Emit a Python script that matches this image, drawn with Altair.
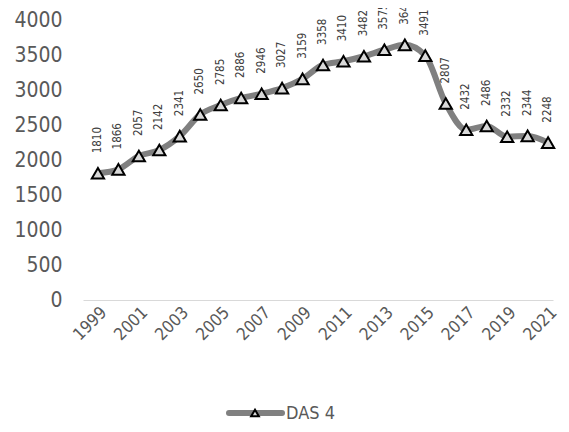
import altair as alt
import pandas as pd

years = list(range(1999, 2022))
values = [1810, 1866, 2057, 2142, 2341, 2650, 2785, 2886, 2946, 3027, 3159, 3358,
          3410, 3482, 3575, 3645, 3491, 2807, 2432, 2486, 2332, 2344, 2248]
series_name = "DAS 4"
y_ticks = [0, 500, 1000, 1500, 2000, 2500, 3000, 3500, 4000]
x_ticks = list(range(1999, 2022, 2))

df = pd.DataFrame({"year": years, "value": values})
legend_df = pd.DataFrame({"series": [series_name]})

FONT = "DejaVu Sans Condensed, Roboto Condensed, Arial Narrow, Roboto, sans-serif"
GRAY = "#595959"
LINE = "#808080"
FILL = "#d9d9d9"

x = alt.X("year:Q", scale=alt.Scale(domain=[1998.27, 2021.24], nice=False, zero=False),
          axis=alt.Axis(values=x_ticks, format="d", labelAngle=-45, labelAlign="right",
                        labelBaseline="top", labelFontSize=17, labelColor=GRAY, labelFont=FONT,
                        ticks=False, domainColor="#d9d9d9", domainWidth=1, grid=False,
                        labelPadding=4, title=None, labelOverlap=False))
y = alt.Y("value:Q", scale=alt.Scale(domain=[0, 4000], nice=False),
          axis=alt.Axis(values=y_ticks, format="d", labelFontSize=21, labelColor=GRAY, labelFont=FONT,
                        ticks=False, domain=False, grid=False, labelPadding=21, title=None))

line = alt.Chart(df).mark_line(strokeWidth=6, interpolate="monotone", color=LINE).encode(x=x, y=y)

pts = alt.Chart(df).mark_point(shape="triangle-up", filled=True, fill=FILL, stroke="black",
                               strokeWidth=2, size=150, opacity=1).encode(x=x, y=y)

labels = alt.Chart(df).mark_text(angle=270, align="left", baseline="middle", dx=20,
                                 fontSize=11.5, font=FONT, color="#404040").encode(
    x=x, y=y, text=alt.Text("value:Q", format="d")
)

# legend (line + triangle + series name)
leg_line = alt.Chart(legend_df).mark_rule(strokeWidth=6, color=LINE, strokeCap="round").encode(
    x=alt.value(146), x2=alt.value(199), y=alt.value(393))
leg_pt = alt.Chart(legend_df).mark_point(shape="triangle-up", filled=True, fill=FILL, stroke="black",
                                         strokeWidth=2, size=60, opacity=1).encode(
    x=alt.value(172), y=alt.value(393))
leg_txt = alt.Chart(legend_df).mark_text(align="left", baseline="middle", fontSize=18, font=FONT,
                                         color=GRAY).encode(
    x=alt.value(203), y=alt.value(394), text="series:N")

chart = alt.layer(line, pts, labels, leg_line, leg_pt, leg_txt).properties(
    width=470, height=280,
    autosize=alt.AutoSizeParams(type="none"),
    padding={"left": 75, "top": 12, "right": 8, "bottom": 124},
).configure_view(stroke=None)

chart.save("out.html", embed_options={"renderer": "svg", "actions": False})
